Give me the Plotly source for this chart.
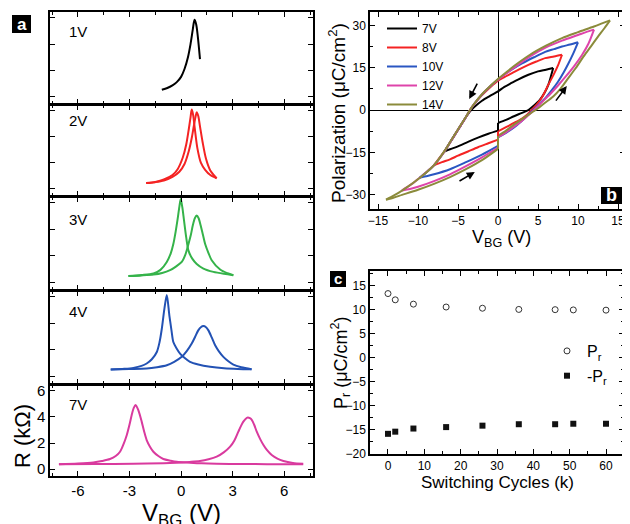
import plotly.graph_objects as go

FONT = "Liberation Sans, Arial, Helvetica, sans-serif"
# the page body has an 8px margin, so the figure is drawn 8px in from the window corner
OFF = 8
W, H = 630 - OFF, 524 - OFF

# ---------------- Panel a : R vs V_BG ----------------
v_1v = [-1.12, -0.8, -0.5, -0.25, 0.0, 0.2, 0.4, 0.55, 0.68, 0.78, 0.88, 0.98, 1.1]
r_1v = [0.52, 0.65, 0.85, 1.1, 1.5, 2.1, 3.0, 4.0, 5.1, 5.85, 5.5, 4.5, 2.85]

v_2v_a = [-2.03, -1.5, -1.0, -0.5, -0.2, 0.1, 0.3, 0.45, 0.55, 0.62, 0.7, 0.8, 0.95, 1.15, 1.4, 1.7, 2.07]
r_2v_a = [0.43, 0.52, 0.7, 1.05, 1.5, 2.4, 3.4, 4.6, 5.5, 6.1, 5.7, 4.6, 3.1, 2.0, 1.45, 1.05, 0.8]
v_2v_b = [-2.03, -1.5, -1.0, -0.5, -0.1, 0.2, 0.45, 0.62, 0.75, 0.85, 0.91, 1.0, 1.1, 1.25, 1.45, 1.7, 2.07]
r_2v_b = [0.43, 0.5, 0.62, 0.9, 1.3, 1.9, 2.9, 3.9, 4.9, 5.6, 5.9, 5.6, 4.8, 3.6, 2.3, 1.4, 0.8]

v_3v_a = [-3.06, -2.3, -1.6, -1.2, -0.83, -0.6, -0.45, -0.32, -0.21, -0.1, -0.02, 0.07, 0.17, 0.3, 0.43, 0.65, 0.91, 1.3, 1.88, 2.5, 3.04]
r_3v_a = [0.48, 0.56, 0.68, 0.95, 1.55, 2.2, 2.9, 3.8, 4.7, 5.7, 6.3, 5.7, 4.7, 3.4, 2.4, 1.8, 1.4, 1.05, 0.8, 0.65, 0.55]
v_3v_b = [-3.06, -2.3, -1.6, -1.1, -0.64, -0.3, 0.04, 0.25, 0.43, 0.57, 0.68, 0.8, 0.91, 1.02, 1.14, 1.27, 1.4, 1.6, 1.78, 2.27, 2.7, 3.04]
r_3v_b = [0.48, 0.53, 0.6, 0.72, 0.93, 1.2, 1.55, 2.1, 2.9, 3.6, 4.3, 4.85, 5.05, 4.85, 4.3, 3.6, 2.9, 2.2, 1.68, 0.98, 0.7, 0.55]

v_4v_a = [-4.09, -3.3, -2.77, -2.3, -2.0, -1.7, -1.41, -1.25, -1.12, -0.97, -0.83, -0.68, -0.56, -0.45, -0.25, -0.06, 0.25, 0.52, 1.0, 1.69, 2.5, 3.3, 4.1]
r_4v_a = [0.53, 0.58, 0.65, 0.8, 0.98, 1.3, 1.85, 2.6, 3.6, 5.1, 6.15, 4.6, 3.5, 2.6, 2.1, 1.73, 1.35, 1.1, 0.9, 0.73, 0.62, 0.57, 0.55]
v_4v_b = [-4.09, -3.0, -2.0, -1.4, -0.83, -0.4, 0.04, 0.35, 0.62, 0.82, 1.0, 1.15, 1.3, 1.45, 1.59, 1.78, 1.98, 2.2, 2.46, 2.75, 3.04, 3.5, 4.1]
r_4v_b = [0.53, 0.56, 0.6, 0.7, 0.85, 1.1, 1.48, 1.95, 2.48, 3.0, 3.48, 3.72, 3.8, 3.72, 3.48, 2.95, 2.35, 1.9, 1.48, 1.15, 0.9, 0.7, 0.55]

v_7v_a = [-7.1, -6.0, -5.1, -4.6, -4.13, -3.8, -3.55, -3.35, -3.16, -3.0, -2.87, -2.75, -2.64, -2.48, -2.29, -2.15, -2.0, -1.8, -1.61, -1.3, -1.03, -0.6, -0.25, 0.52, 1.2, 2.07, 3.5, 5.0, 7.1]
r_7v_a = [0.38, 0.43, 0.51, 0.62, 0.77, 1.0, 1.33, 1.9, 2.6, 3.4, 4.15, 4.7, 4.92, 4.5, 3.64, 2.9, 2.23, 1.7, 1.33, 0.98, 0.77, 0.64, 0.56, 0.49, 0.44, 0.41, 0.39, 0.38, 0.38]
v_7v_b = [-7.1, -5.0, -2.77, -1.0, -0.25, 0.5, 1.1, 1.6, 2.07, 2.5, 2.85, 3.1, 3.33, 3.5, 3.62, 3.75, 3.88, 4.0, 4.11, 4.25, 4.4, 4.6, 4.79, 5.0, 5.27, 5.6, 5.95, 6.5, 7.1]
r_7v_b = [0.38, 0.39, 0.41, 0.45, 0.49, 0.55, 0.62, 0.75, 0.95, 1.3, 1.72, 2.2, 2.87, 3.35, 3.64, 3.85, 3.95, 3.9, 3.77, 3.4, 2.87, 2.3, 1.85, 1.45, 1.08, 0.8, 0.62, 0.47, 0.41]

a_labels = ["1V", "2V", "3V", "4V", "7V"]
a_ticks = [-6, -3, 0, 3, 6]

# ---------------- Panel b : hysteresis loops ----------------
# each loop: upper branch (+Vmax -> -Vmax), lower-left (-Vmax -> 0), lower-right (0 -> +Vmax)
loop_7_up_v = [6.9, 6.0, 5.0, 3.8, 2.5, 1.7, 0.8, 0.0, -1.0, -2.0, -3.0, -3.5, -4.0, -5.0, -6.0, -6.7]
loop_7_up_p = [14.9, 14.3, 13.7, 12.5, 10.8, 9.6, 8.2, 6.6, 5.0, 3.3, 1.0, -0.5, -2.5, -7.0, -11.5, -14.7]
loop_7_ll_v = [-6.7, -6.0, -5.0, -3.75, -2.5, -1.2, 0.0]
loop_7_ll_p = [-14.7, -13.9, -12.9, -11.3, -9.8, -8.4, -7.3]
loop_7_lr_v = [0.0, 1.0, 2.0, 3.0, 3.8, 4.5, 5.2, 5.8, 6.3, 6.6, 6.9]
loop_7_lr_p = [-4.6, -3.5, -2.2, -1.0, 0.0, 1.6, 3.5, 6.0, 9.0, 11.8, 14.9]

loop_8_up_v = [8.0, 7.0, 5.9, 4.8, 3.8, 2.7, 1.7, 0.8, 0.0, -1.0, -2.0, -3.0, -3.5, -4.0, -5.0, -6.0, -6.7, -7.4, -8.0]
loop_8_up_p = [19.6, 19.0, 18.4, 17.2, 16.0, 14.5, 13.0, 11.7, 10.4, 8.0, 5.3, 2.0, 0.0, -2.5, -7.0, -11.5, -14.7, -17.3, -19.6]
loop_8_ll_v = [-8.0, -7.0, -6.0, -5.0, -3.75, -2.5, -1.2, 0.0]
loop_8_ll_p = [-19.6, -18.5, -17.5, -16.2, -14.7, -13.2, -11.8, -10.5]
loop_8_lr_v = [0.0, 1.0, 2.0, 3.0, 3.7, 4.2, 5.0, 5.6, 6.3, 7.0, 7.5, 8.0]
loop_8_lr_p = [-7.6, -6.1, -4.6, -3.0, -1.5, 0.0, 2.5, 5.0, 9.0, 12.8, 15.8, 19.6]

loop_10_up_v = [10.0, 9.0, 8.0, 7.0, 5.9, 4.5, 3.0, 1.7, 0.8, 0.0, -1.0, -2.0, -3.0, -3.5, -4.0, -5.0, -6.0, -6.7, -8.0, -9.0, -9.8]
loop_10_up_p = [24.0, 23.2, 22.5, 21.6, 20.6, 18.7, 16.5, 14.3, 12.6, 10.8, 8.3, 5.5, 2.0, 0.0, -2.5, -7.0, -11.5, -14.7, -19.6, -22.2, -24.0]
loop_10_ll_v = [-9.8, -9.0, -8.0, -6.0, -4.0, -2.0, 0.0]
loop_10_ll_p = [-24.0, -23.5, -22.8, -21.0, -18.5, -15.8, -12.7]
loop_10_lr_v = [0.0, 1.0, 2.0, 3.0, 4.4, 5.3, 6.0, 6.8, 7.5, 8.2, 8.8, 9.4, 10.0]
loop_10_lr_p = [-9.7, -8.1, -6.2, -3.8, 0.0, 2.5, 4.5, 7.3, 10.0, 13.3, 16.5, 20.0, 24.0]

loop_12_up_v = [12.0, 11.0, 10.0, 8.0, 6.0, 4.0, 2.0, 1.0, 0.0, -1.0, -2.0, -3.0, -3.5, -4.0, -5.0, -6.0, -6.7, -8.0, -9.8, -10.8, -12.0]
loop_12_up_p = [28.5, 27.6, 26.6, 24.6, 22.2, 19.0, 15.0, 12.9, 10.8, 8.3, 5.5, 2.0, 0.0, -2.5, -7.0, -11.5, -14.7, -19.6, -24.0, -26.3, -28.5]
loop_12_ll_v = [-12.0, -11.0, -10.0, -8.0, -6.0, -4.0, -2.0, 0.0]
loop_12_ll_p = [-28.5, -28.0, -27.2, -25.2, -22.8, -19.9, -16.8, -13.3]
loop_12_lr_v = [0.0, 1.0, 2.0, 3.0, 4.5, 5.5, 6.5, 7.5, 8.5, 9.5, 10.5, 11.3, 12.0]
loop_12_lr_p = [-9.6, -7.9, -5.9, -3.8, 0.0, 2.8, 5.6, 8.7, 12.0, 15.5, 19.5, 23.5, 28.5]

loop_14_up_v = [14.0, 13.0, 12.0, 10.0, 8.0, 6.0, 4.0, 2.0, 1.0, 0.0, -1.0, -2.0, -3.0, -3.5, -4.0, -5.0, -6.0, -6.7, -8.0, -9.8, -11.9, -13.0, -14.0]
loop_14_up_p = [31.8, 30.7, 29.6, 27.6, 25.5, 22.8, 19.6, 15.6, 13.3, 11.0, 8.4, 5.6, 2.1, 0.0, -2.4, -6.9, -11.4, -14.6, -19.6, -24.1, -28.4, -30.3, -31.8]
loop_14_ll_v = [-14.0, -13.0, -12.0, -10.0, -8.0, -6.0, -4.0, -2.0, 0.0]
loop_14_ll_p = [-31.8, -31.0, -30.1, -28.3, -26.2, -23.8, -21.0, -17.8, -13.8]
loop_14_lr_v = [0.0, 1.0, 2.0, 3.3, 4.7, 5.8, 6.9, 7.8, 8.6, 9.7, 10.7, 11.6, 12.5, 13.3, 14.0]
loop_14_lr_p = [-9.2, -7.3, -5.2, -2.6, 0.0, 2.4, 4.8, 7.5, 10.6, 14.8, 19.0, 22.5, 26.0, 29.0, 31.8]

b_names = ["7V", "8V", "10V", "12V", "14V"]

# ---------------- Panel c : remanent polarization vs cycles ----------------
cycles = [0, 2, 7, 16, 26, 36, 46, 51, 60]
pr_pos = [13.4, 12.1, 11.2, 10.6, 10.35, 10.1, 10.05, 10.0, 9.95]
pr_neg = [-15.8, -15.35, -14.7, -14.4, -14.1, -13.8, -13.8, -13.7, -13.7]

# ---------------- styling ----------------
a_colors = ["#000000", "#f42323", "#35b34a", "#2352b4", "#d93a9e"]
b_colors = ["#000000", "#f42323", "#2a56c2", "#de44aa", "#8b8b3b"]


def X(p):
    return (p - OFF) / W


def Y(p):
    return 1 - (p - OFF) / H


fig = go.Figure()

a_curves = [
    [(v_1v, r_1v)],
    [(v_2v_a, r_2v_a), (v_2v_b, r_2v_b)],
    [(v_3v_a, r_3v_a), (v_3v_b, r_3v_b)],
    [(v_4v_a, r_4v_a), (v_4v_b, r_4v_b)],
    [(v_7v_a, r_7v_a), (v_7v_b, r_7v_b)],
]
for i, curves in enumerate(a_curves):
    ax = "x" if i == 0 else f"x{i+1}"
    ay = "y" if i == 0 else f"y{i+1}"
    for vv, rr in curves:
        fig.add_trace(go.Scatter(x=vv, y=rr, mode="lines", xaxis=ax, yaxis=ay,
                                 line=dict(color=a_colors[i], width=2, shape="spline", smoothing=0.8),
                                 showlegend=False, hoverinfo="skip"))

loops = [
    (loop_7_up_v, loop_7_up_p, loop_7_ll_v, loop_7_ll_p, loop_7_lr_v, loop_7_lr_p),
    (loop_8_up_v, loop_8_up_p, loop_8_ll_v, loop_8_ll_p, loop_8_lr_v, loop_8_lr_p),
    (loop_10_up_v, loop_10_up_p, loop_10_ll_v, loop_10_ll_p, loop_10_lr_v, loop_10_lr_p),
    (loop_12_up_v, loop_12_up_p, loop_12_ll_v, loop_12_ll_p, loop_12_lr_v, loop_12_lr_p),
    (loop_14_up_v, loop_14_up_p, loop_14_ll_v, loop_14_ll_p, loop_14_lr_v, loop_14_lr_p),
]
for k, lp in enumerate(loops):
    for j in range(3):
        vv, pp = lp[2 * j], lp[2 * j + 1]
        fig.add_trace(go.Scatter(x=vv, y=pp, mode="lines", xaxis="x6", yaxis="y6",
                                 name=b_names[k], legendgroup=b_names[k], showlegend=(j == 0),
                                 legend="legend",
                                 line=dict(color=b_colors[k], width=2, shape="spline", smoothing=0.8),
                                 hoverinfo="skip"))
# join the jump at V = 0 for the lower branch
for k, lp in enumerate(loops):
    fig.add_trace(go.Scatter(x=[lp[2][-1], lp[4][0]], y=[lp[3][-1], lp[5][0]], mode="lines",
                             xaxis="x6", yaxis="y6", legendgroup=b_names[k], showlegend=False,
                             line=dict(color=b_colors[k], width=2), hoverinfo="skip"))

fig.add_trace(go.Scatter(x=cycles, y=pr_pos, mode="markers", xaxis="x7", yaxis="y7",
                         name="P<sub>r</sub>", legend="legend2", legendgroup="pp",
                         marker=dict(symbol="circle-open", size=6, color="#333333", line=dict(width=1))))
fig.add_trace(go.Scatter(x=cycles, y=pr_neg, mode="markers", xaxis="x7", yaxis="y7",
                         name="-P<sub>r</sub>", legend="legend2", legendgroup="pn",
                         marker=dict(symbol="square", size=6, color="#111111")))

common = dict(showline=True, linecolor="black", linewidth=1.5, mirror="ticks", ticks="inside",
              tickcolor="black", tickwidth=1.2, ticklen=5, showgrid=False, zeroline=False,
              automargin=False)

layout = dict(template="none", width=W, height=H, margin=dict(l=0, r=0, t=0, b=0, pad=0),
              paper_bgcolor="white", plot_bgcolor="white", font=dict(family=FONT, color="black"))

# stacked panels: each bottom sits 1.5px above the next top so the shared frame lines coincide
a_rows = [(12, 103.5), (105, 195.5), (197, 289.5), (291, 383.5), (385, 476)]
for i, (top, bot) in enumerate(a_rows):
    xn = "xaxis" if i == 0 else f"xaxis{i+1}"
    yn = "yaxis" if i == 0 else f"yaxis{i+1}"
    an = "y" if i == 0 else f"y{i+1}"
    xa = "x" if i == 0 else f"x{i+1}"
    last = (i == 4)
    layout[xn] = dict(common, domain=[X(50), X(313)], range=[-7.62, 7.67], anchor=an,
                      tickvals=a_ticks, ticktext=[str(t) for t in a_ticks], showticklabels=last,
                      minor=dict(ticks="inside", ticklen=3, tickwidth=1, tickcolor="black", dtick=1.5, tick0=0),
                      tickfont=dict(size=15, family=FONT, color="black"))
    layout[yn] = dict(common, domain=[Y(bot), Y(top)], range=[-0.53, 6.45], anchor=xa,
                      dtick=2, tick0=0, showticklabels=last,
                      tickfont=dict(size=15, family=FONT, color="black"))

layout["xaxis6"] = dict(common, domain=[X(370), X(625)], range=[-16, 15.875], anchor="y6",
                        dtick=5, tick0=0, zeroline=True, zerolinecolor="black", zerolinewidth=1.3,
                        minor=dict(ticks="inside", ticklen=3, tickwidth=1, tickcolor="black", dtick=2.5),
                        tickfont=dict(size=12, family=FONT, color="black"))
layout["yaxis6"] = dict(common, domain=[Y(209), Y(12)], range=[-35.1, 34.75], anchor="x6",
                        dtick=15, tick0=0, zeroline=True, zerolinecolor="black", zerolinewidth=1.3,
                        minor=dict(ticks="inside", ticklen=3, tickwidth=1, tickcolor="black", dtick=7.5),
                        tickfont=dict(size=12, family=FONT, color="black"))
layout["xaxis7"] = dict(common, domain=[X(370), X(624)], range=[-4.95, 64.95], anchor="y7",
                        dtick=10, tick0=0,
                        minor=dict(ticks="inside", ticklen=3, tickwidth=1, tickcolor="black", dtick=5),
                        tickfont=dict(size=12, family=FONT, color="black"))
layout["yaxis7"] = dict(common, domain=[Y(454), Y(271)], range=[-20, 18.1], anchor="x7",
                        dtick=5, tick0=0,
                        minor=dict(ticks="inside", ticklen=3, tickwidth=1, tickcolor="black", dtick=2.5),
                        tickfont=dict(size=12, family=FONT, color="black"))

layout["legend"] = dict(x=X(382), y=Y(14), xanchor="left", yanchor="top", bgcolor="rgba(0,0,0,0)",
                        font=dict(size=12, family=FONT, color="black"), tracegroupgap=0, borderwidth=0)
layout["legend2"] = dict(x=X(547), y=Y(334), xanchor="left", yanchor="top", bgcolor="rgba(0,0,0,0)",
                         font=dict(size=16, family=FONT, color="black"), tracegroupgap=1, borderwidth=0)

shapes = [
    dict(type="rect", xref="paper", yref="paper", x0=X(12), x1=X(31), y0=Y(33), y1=Y(15),
         fillcolor="black", line=dict(width=0)),
    dict(type="rect", xref="paper", yref="paper", x0=X(601), x1=X(622), y0=Y(204), y1=Y(187),
         fillcolor="black", line=dict(width=0)),
    dict(type="rect", xref="paper", yref="paper", x0=X(330), x1=X(346), y0=Y(287), y1=Y(271),
         fillcolor="black", line=dict(width=0)),
]
layout["shapes"] = shapes


def txt(x, y, s, size, angle=0, color="black", bold=False, xanchor="center"):
    return dict(x=X(x), y=Y(y), xref="paper", yref="paper", text=(f"<b>{s}</b>" if bold else s),
                showarrow=False, textangle=angle, xanchor=xanchor, yanchor="middle",
                font=dict(size=size, family=FONT, color=color))


ann = [
    txt(21.5, 24, "a", 17, color="white", bold=True),
    txt(611.5, 195, "b", 18, color="white", bold=True),
    txt(338, 278.5, "c", 15, color="white", bold=True),
    txt(22, 436, "R (kΩ)", 22, angle=-90),
    txt(181, 514, "V<sub>BG</sub> (V)", 24),
    txt(337, 113, "Polarization (μC/cm<sup>2</sup>)", 19, angle=-90),
    txt(501, 238, "V<sub>BG</sub> (V)", 18),
    txt(340, 363, "P<sub>r</sub> (μC/cm<sup>2</sup>)", 18, angle=-90),
    txt(497, 482, "Switching Cycles (k)", 17),
]
label_y = [32, 121, 219, 311, 404]
for lab, yy in zip(a_labels, label_y):
    ann.append(txt(67, yy, lab, 15, xanchor="left"))

# hysteresis direction arrows (tail -> head)
arrows = [((-2.5, 9.9), (-3.6, 3.9)), ((-5.0, -25.5), (-2.9, -22.0)), ((7.1, 2.8), (8.6, 8.5))]
for (tx, ty), (hx, hy) in arrows:
    ann.append(dict(x=hx, y=hy, ax=tx, ay=ty, xref="x6", yref="y6", axref="x6", ayref="y6",
                    text="", showarrow=True, arrowhead=2, arrowsize=1, arrowwidth=1.6, arrowcolor="black"))
layout["annotations"] = ann

fig.update_layout(**layout)
fig.write_html("out.html")
